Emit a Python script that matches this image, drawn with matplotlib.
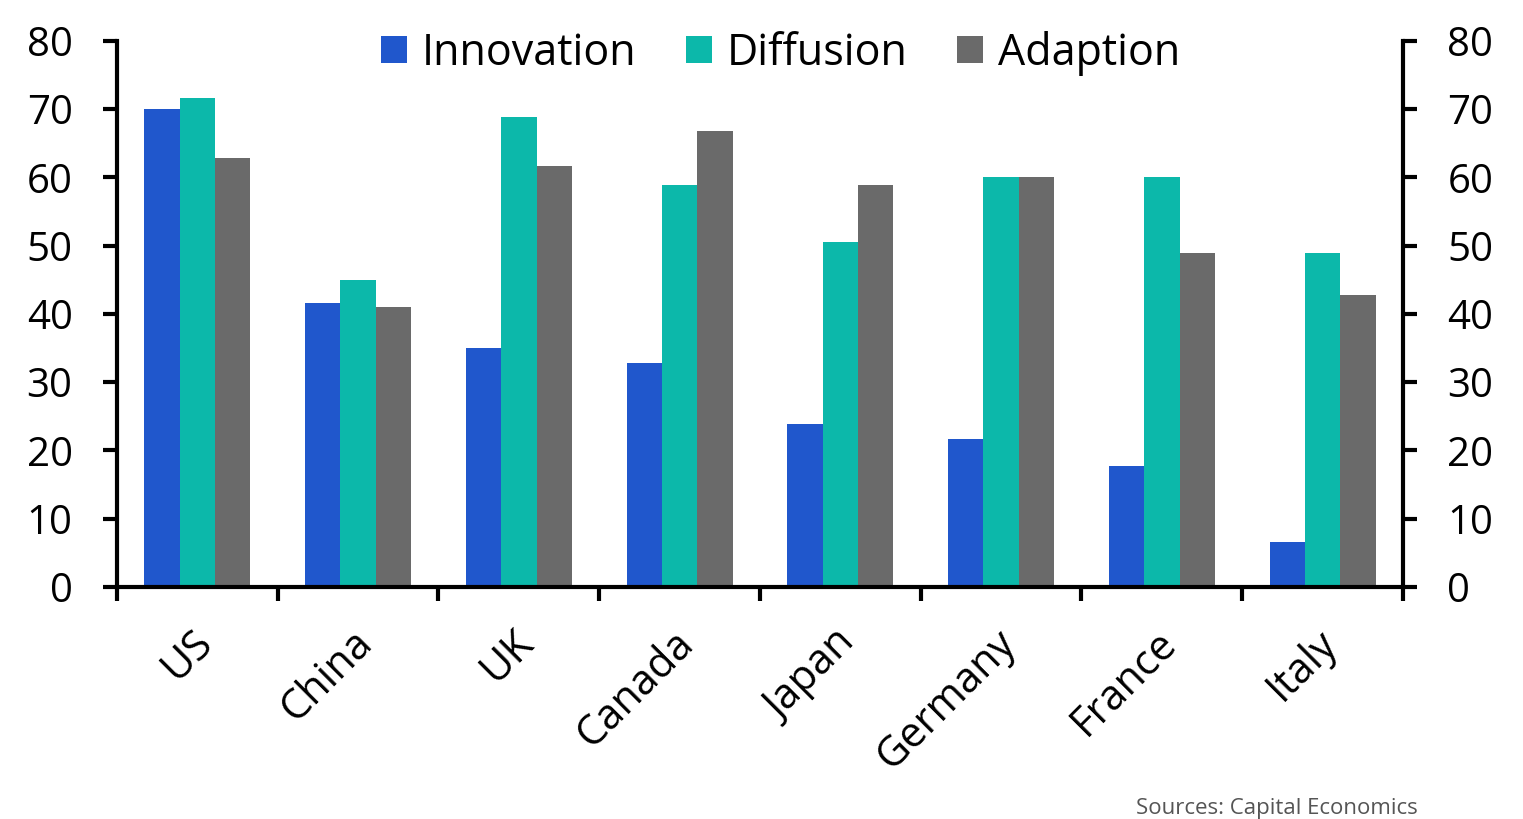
import numpy as np
import matplotlib.pyplot as plt
import matplotlib.transforms as mtransforms
from matplotlib.patches import Patch

plt.rcParams['font.family'] = ['Open Sans', 'DejaVu Sans']

countries = ["US", "China", "UK", "Canada", "Japan", "Germany", "France", "Italy"]
innovation = [70.0, 41.6, 35.0, 32.8, 23.9, 21.7, 17.7, 6.6]
diffusion = [71.6, 45.0, 68.9, 58.9, 50.5, 60.0, 60.0, 48.9]
adaption = [62.9, 41.0, 61.7, 66.8, 58.9, 60.0, 48.9, 42.8]

series = [("Innovation", innovation, "#2057cc"),
          ("Diffusion", diffusion, "#0cb8aa"),
          ("Adaption", adaption, "#6a6a6a")]

fig = plt.figure(figsize=(15.23, 8.19), dpi=100)
ax = fig.add_axes([0.0768, 0.2833, 0.8444, 0.6667])

x = np.arange(len(countries))
w = 0.22
for i, (name, vals, col) in enumerate(series):
    ax.bar(x + (i - 1) * w, vals, width=w, color=col, edgecolor="none")

ax.set_xlim(-0.5, len(countries) - 0.5)
ax.set_ylim(0, 80)
ax.set_yticks(range(0, 81, 10))

# category boundaries carry the tick marks, labels sit under the centres
ax.set_xticks(np.arange(-0.5, len(countries), 1.0))
ax.set_xticklabels([])
ax.set_xticks(x, minor=True)
ax.set_xticklabels(countries, minor=True, rotation=45, ha="right",
                   va="center", rotation_mode="anchor", fontsize=30)
ax.tick_params(axis="x", which="minor", length=0, pad=36)
ax.tick_params(axis="x", which="major", length=10, width=3, direction="out")
shift = mtransforms.ScaledTranslation(6 / 72, 0, fig.dpi_scale_trans)
for lab in ax.get_xticklabels(minor=True):
    lab.set_transform(lab.get_transform() + shift)

ax.tick_params(axis="y", length=10, width=3, labelsize=29, pad=22,
               right=True, labelright=True)

ax.spines["top"].set_visible(False)
for s in ["left", "right", "bottom"]:
    ax.spines[s].set_linewidth(3)

handles = [Patch(facecolor=c, label=n) for n, _, c in series]
ax.legend(handles=handles, loc="upper center", bbox_to_anchor=(0.516, 1.09),
          ncol=3, frameon=False, fontsize=31, handlelength=0.6,
          handleheight=0.6, handletextpad=0.35, columnspacing=1.15)

fig.text(0.931, 0.0, "Sources: Capital Economics", ha="right", va="bottom",
         fontsize=16, color="#555555")

fig.savefig("out.png", dpi=100)
